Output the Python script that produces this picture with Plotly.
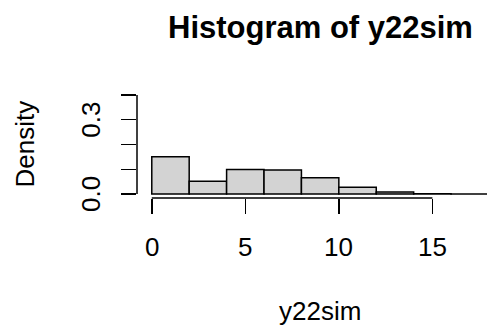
import numpy as np
import plotly.graph_objects as go

# Data
breaks = [0, 2, 4, 6, 8, 10, 12, 14, 16, 18]
densities = [0.151, 0.052, 0.099, 0.097, 0.066, 0.027, 0.008, 0.0015, 0.0005]
x_ticks = [0, 5, 10, 15]
x_tick_labels = ["0", "5", "10", "15"]
y_ticks = [0.0, 0.1, 0.2, 0.3, 0.4]
y_tick_labels = ["0.0", "", "", "0.3", ""]

title_text = "Histogram of y22sim"
x_label = "y22sim"
y_label = "Density"

edges = np.array(breaks, dtype=float)
mids = (edges[:-1] + edges[1:]) / 2
widths = np.diff(edges)

FONT = "Liberation Sans, Arial, Helvetica, sans-serif"

fig = go.Figure()
fig.add_trace(go.Bar(
    x=mids, y=densities, width=widths,
    marker=dict(color="#D3D3D3", line=dict(color="black", width=1.5)),
    hoverinfo="skip",
))

fig.update_layout(
    width=487, height=326,
    margin=dict(l=137, r=0, t=91, b=128),
    paper_bgcolor="white", plot_bgcolor="white",
    showlegend=False,
    font=dict(family=FONT, size=26, color="black"),
    bargap=0,
)
fig.update_xaxes(
    range=[-0.79, 17.92], showgrid=False, zeroline=False, showline=False,
    tickvals=x_ticks, showticklabels=False,
    ticks="outside", ticklen=15, tickwidth=1.5, tickcolor="black",
)
fig.update_yaxes(
    range=[-0.016, 0.416], showgrid=False, zeroline=False, showline=False,
    tickvals=y_ticks, showticklabels=False,
    ticks="outside", ticklen=15, tickwidth=1.5, tickcolor="black",
)

# R-style axis lines spanning only first..last tick
fig.add_shape(type="line", xref="x", yref="paper",
              x0=x_ticks[0], x1=x_ticks[-1], y0=0, y1=0,
              line=dict(color="black", width=1.5))
fig.add_shape(type="line", xref="paper", yref="y",
              x0=0, x1=0, y0=y_ticks[0], y1=y_ticks[-1],
              line=dict(color="black", width=1.5))

annotations = []
for v, t in zip(x_ticks, x_tick_labels):
    annotations.append(dict(x=v, xref="x", y=0, yref="paper", text=t,
                            showarrow=False, xanchor="center", yanchor="middle",
                            yshift=-49, font=dict(size=26, family=FONT)))
for v, t in zip(y_ticks, y_tick_labels):
    if t:
        annotations.append(dict(x=0, xref="paper", y=v, yref="y", text=t,
                                showarrow=False, xanchor="center", yanchor="middle",
                                xshift=-46, textangle=-90,
                                font=dict(size=26, family=FONT)))
annotations.append(dict(x=0, xref="paper", y=0.5, yref="paper", text=y_label,
                        showarrow=False, xanchor="center", yanchor="middle",
                        xshift=-113, textangle=-90,
                        font=dict(size=26, family=FONT)))
annotations.append(dict(x=(320 - 137) / 350, xref="paper", y=0, yref="paper",
                        text=x_label, showarrow=False, xanchor="center",
                        yanchor="middle", yshift=-113,
                        font=dict(size=26, family=FONT)))
annotations.append(dict(x=(320 - 137) / 350, xref="paper", y=1, yref="paper",
                        text="<b>" + title_text + "</b>", showarrow=False,
                        xanchor="center", yanchor="middle", yshift=64,
                        font=dict(size=31, family=FONT)))
fig.update_layout(annotations=annotations)

fig.write_html("out.html",
               config={"displayModeBar": False, "staticPlot": True},
               post_script="document.body.style.margin='0';document.body.style.overflow='hidden';")
